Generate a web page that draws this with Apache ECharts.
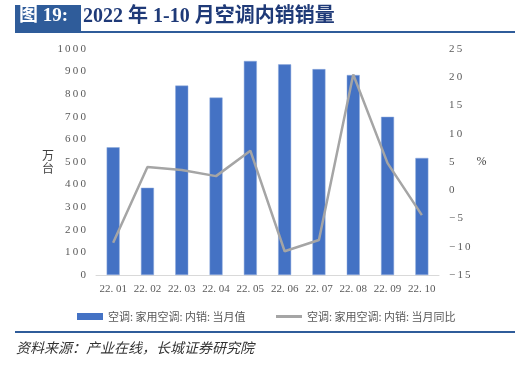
<!DOCTYPE html>
<html>
<head>
<meta charset="utf-8">
<script src="https://cdn.jsdelivr.net/npm/echarts@6/dist/echarts.min.js"></script>
<style>
html,body{margin:0;padding:0;background:#fff;}
#main{width:517px;height:377px;}
</style>
</head>
<body>
<div id="main"></div>
<script>
var months = ['22.01','22.02','22.03','22.04','22.05','22.06','22.07','22.08','22.09','22.10'];
var salesValue = [565, 386, 838, 785, 947, 932, 911, 885, 700, 518];
var salesYoy = [-9.3, 4.1, 3.6, 2.5, 7.0, -10.8, -8.8, 20.5, 4.8, -4.4];

var serifFont = '"Liberation Serif","DejaVu Serif","Noto Sans CJK SC",serif';
var cjkFont = '"Noto Sans CJK SC",sans-serif';

function spaced(s){
	return String(s).replace('-', '\u2212').split('').join('\u2009');
}
function legendText(n){ return n.replace(/:/g, ': '); }

var chart = echarts.init(document.getElementById('main'));
chart.setOption({
	animation: false,
	grid: {left: 96, right: 78, top: 49, bottom: 102, outerBoundsMode: 'none'},
	legend: [{
		top: 306,
		left: 72,
		itemWidth: 26,
		itemHeight: 7,
		textStyle: {color: '#595959', fontSize: 11, fontFamily: cjkFont},
		data: [{name: '空调:家用空调:内销:当月值', icon: 'rect', itemStyle: {borderWidth: 0}}],
		formatter: legendText
	}, {
		top: 306,
		left: 271,
		itemWidth: 26,
		itemHeight: 3,
		textStyle: {color: '#595959', fontSize: 11, fontFamily: cjkFont},
		data: [{name: '空调:家用空调:内销:当月同比', icon: 'rect'}],
		formatter: legendText
	}],
	xAxis: {
		type: 'category',
		data: months,
		axisLine: {lineStyle: {color: '#D9D9D9'}},
		axisTick: {show: false},
		axisLabel: {
			interval: 0,
			color: '#595959', fontSize: 11, fontFamily: serifFont, margin: 9,
			formatter: function(v){ return v.replace('.', '. '); }
		}
	},
	yAxis: [{
		type: 'value',
		min: 0, max: 1000, interval: 100,
		name: '万\n台',
		nameLocation: 'middle',
		nameRotate: 0,
		nameGap: 48,
		nameMoveOverlap: false,
		nameTextStyle: {color: '#404040', fontSize: 12, fontFamily: cjkFont, lineHeight: 13, align: 'center', verticalAlign: 'middle'},
		splitLine: {show: false},
		axisLine: {show: false},
		axisTick: {show: false},
		axisLabel: {color: '#595959', fontSize: 11, fontFamily: serifFont, margin: 10, formatter: spaced}
	}, {
		type: 'value',
		min: -15, max: 25, interval: 5,
		name: '%',
		nameLocation: 'middle',
		nameRotate: 0,
		nameGap: 34,
		nameTextStyle: {color: '#404040', fontSize: 12, fontFamily: serifFont},
		splitLine: {show: false},
		axisLine: {show: false},
		axisTick: {show: false},
		axisLabel: {color: '#595959', fontSize: 11, fontFamily: serifFont, margin: 10, formatter: spaced}
	}],
	series: [{
		name: '空调:家用空调:内销:当月值',
		type: 'bar',
		data: salesValue,
		barWidth: 13,
		itemStyle: {color: '#4472C4', borderColor: '#8FAADC', borderWidth: 0.5}
	}, {
		name: '空调:家用空调:内销:当月同比',
		type: 'line',
		yAxisIndex: 1,
		data: salesYoy,
		symbol: 'none',
		lineStyle: {color: '#A5A5A5', width: 2.5},
		itemStyle: {color: '#A5A5A5'}
	}],
	graphic: [
		{type: 'rect', shape: {x: 15, y: 5, width: 66, height: 26}, style: {fill: '#2F5C9A'}},
		{type: 'text', left: 19, top: 7, style: {text: '图 19:', fill: '#fff', font: 'bold 19px ' + serifFont}},
		{type: 'text', left: 83, top: 7, style: {text: '2022 年 1-10 月空调内销销量', fill: '#1F3A78', font: 'bold 20px ' + serifFont}},
		{type: 'rect', shape: {x: 15, y: 31, width: 500, height: 2}, style: {fill: '#2F5C9A'}},
		{type: 'rect', shape: {x: 15, y: 331, width: 500, height: 2}, style: {fill: '#2F5C9A'}},
		{type: 'text', left: 16, top: 341, style: {text: '资料来源：产业在线，长城证券研究院', fill: '#333', font: 'italic 14px ' + cjkFont}}
	]
});
</script>
</body>
</html>
